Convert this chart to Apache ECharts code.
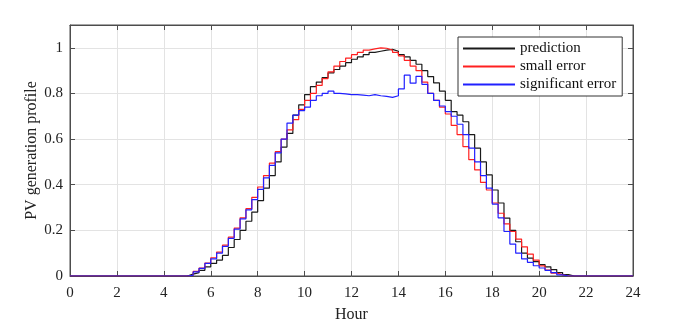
<!DOCTYPE html>
<html>
<head>
<meta charset="utf-8">
<script src="https://cdn.jsdelivr.net/npm/echarts@6/dist/echarts.min.js"></script>
<style>
  html, body { margin: 0; padding: 0; background: #fff; }
  #chart_content { width: 678px; height: 324px; }
</style>
</head>
<body>
<div id="chart_content"></div>
<script>
// 15-minute slots, 96 per day (slot i covers hour i/4 .. (i+1)/4)
let prediction = [
    0, 0, 0, 0, 0, 0, 0, 0, 0, 0, 0, 0, 0, 0, 0, 0, 0, 0, 0, 0,
    0.008, 0.015, 0.025, 0.04, 0.055, 0.07, 0.09, 0.125, 0.16, 0.20, 0.24, 0.28,
    0.33, 0.385, 0.44, 0.50, 0.565, 0.625, 0.705, 0.75, 0.795, 0.83, 0.85, 0.87,
    0.89, 0.905, 0.92, 0.935, 0.95, 0.96, 0.97, 0.98, 0.985, 0.99, 0.993, 0.985,
    0.97, 0.96, 0.945, 0.928, 0.90, 0.874, 0.846, 0.81, 0.77, 0.72, 0.705, 0.676,
    0.62, 0.56, 0.50, 0.443, 0.377, 0.32, 0.254, 0.20, 0.15, 0.10, 0.078, 0.063,
    0.05, 0.04, 0.028, 0.015, 0.006, 0, 0, 0, 0, 0, 0, 0, 0, 0, 0, 0
];
let smallError = [
    0, 0, 0, 0, 0, 0, 0, 0, 0, 0, 0, 0, 0, 0, 0, 0, 0, 0, 0, 0,
    0.003, 0.02, 0.035, 0.057, 0.08, 0.105, 0.135, 0.17, 0.21, 0.255, 0.295, 0.345,
    0.39, 0.44, 0.495, 0.545, 0.60, 0.64, 0.685, 0.73, 0.77, 0.80, 0.835, 0.865,
    0.895, 0.92, 0.94, 0.955, 0.97, 0.98, 0.99, 0.995, 1.0, 0.998, 0.99, 0.98,
    0.965, 0.945, 0.92, 0.90, 0.85, 0.80, 0.77, 0.74, 0.71, 0.66, 0.62, 0.567,
    0.51, 0.465, 0.41, 0.377, 0.32, 0.275, 0.228, 0.195, 0.162, 0.128, 0.096, 0.07,
    0.044, 0.026, 0.013, 0.005, 0, 0, 0, 0, 0, 0, 0, 0, 0, 0, 0, 0
];
let significantError = [
    0, 0, 0, 0, 0, 0, 0, 0, 0, 0, 0, 0, 0, 0, 0, 0, 0, 0, 0, 0,
    0.003, 0.018, 0.033, 0.055, 0.075, 0.10, 0.13, 0.165, 0.205, 0.25, 0.29, 0.335,
    0.38, 0.43, 0.485, 0.54, 0.60, 0.67, 0.705, 0.725, 0.74, 0.77, 0.79, 0.80,
    0.81, 0.80, 0.798, 0.795, 0.795, 0.793, 0.79, 0.795, 0.79, 0.787, 0.783, 0.79,
    0.82, 0.88, 0.845, 0.875, 0.84, 0.80, 0.77, 0.745, 0.72, 0.70, 0.665, 0.62,
    0.56, 0.50, 0.44, 0.385, 0.315, 0.255, 0.195, 0.14, 0.10, 0.075, 0.06, 0.045,
    0.035, 0.025, 0.015, 0.005, 0, 0, 0, 0, 0, 0, 0, 0, 0, 0, 0, 0
];
let xTicks = [0, 2, 4, 6, 8, 10, 12, 14, 16, 18, 20, 22, 24];
let yTicks = [0, 0.2, 0.4, 0.6, 0.8, 1];

// stairs: each slot value held to the next slot, last value held to hour 24
function toStairs(values) {
    let pts = values.map(function (v, i) { return [i / 4, v]; });
    pts.push([values.length / 4, values[values.length - 1]]);
    return pts;
}

let serif = 'Liberation Serif';
let axisColor = '#4d4d4d';

let stairsChart = {
    __dom: null,
    __chart: null,
    __option: {},
    initChart: function () {
        this.__dom = document.getElementById('chart_content');
        this.__chart = echarts.init(this.__dom, null, { renderer: 'canvas' });
        let boxAxis = {
            type: 'value',
            axisLine: { show: true, onZero: false, lineStyle: { color: axisColor, width: 1 } },
            axisTick: { show: true, inside: true, length: 5, lineStyle: { color: axisColor } },
            axisLabel: { show: false },
            splitLine: { show: false }
        };
        this.__option = {
            animation: false,
            textStyle: { fontFamily: serif },
            grid: {
                left: 70, right: 45, top: 25, bottom: 48,
                outerBoundsMode: 'none',
                containLabel: false,
                show: true, borderColor: axisColor, borderWidth: 1, backgroundColor: 'transparent'
            },
            legend: {
                orient: 'vertical',
                left: 458,
                top: 37,
                backgroundColor: '#fff',
                borderColor: '#333',
                borderWidth: 1,
                borderRadius: 0,
                padding: [4, 6, 4, 5],
                itemGap: 3,
                itemWidth: 52,
                itemHeight: 2,
                icon: 'rect',
                textStyle: { fontFamily: serif, fontSize: 15, color: '#111' },
                data: ['prediction', 'small error', 'significant error']
            },
            xAxis: [
                {
                    type: 'value',
                    min: xTicks[0],
                    max: xTicks[xTicks.length - 1],
                    interval: 2,
                    name: 'Hour',
                    nameLocation: 'middle',
                    nameGap: 31,
                    nameMoveOverlap: false,
                    nameTextStyle: { fontFamily: serif, fontSize: 16, color: '#222' },
                    axisLine: { show: true, onZero: false, lineStyle: { color: axisColor, width: 1 } },
                    axisTick: { show: true, inside: true, length: 5, lineStyle: { color: axisColor } },
                    axisLabel: { fontFamily: serif, fontSize: 15, color: '#222', margin: 10 },
                    splitLine: { show: true, lineStyle: { color: '#e3e3e3', width: 1 } }
                },
                Object.assign({
                    position: 'top',
                    min: xTicks[0], max: xTicks[xTicks.length - 1], interval: 2
                }, boxAxis)
            ],
            yAxis: [
                {
                    type: 'value',
                    min: 0,
                    max: 1.1,
                    interval: 0.2,
                    name: 'PV generation profile',
                    nameLocation: 'middle',
                    nameGap: 30,
                    nameMoveOverlap: false,
                    nameTextStyle: { fontFamily: serif, fontSize: 16, color: '#222' },
                    axisLine: { show: true, onZero: false, lineStyle: { color: axisColor, width: 1 } },
                    axisTick: {
                        show: true, inside: true, length: 5, lineStyle: { color: axisColor },
                        customValues: yTicks
                    },
                    axisLabel: {
                        fontFamily: serif, fontSize: 15, color: '#222', margin: 7,
                        customValues: yTicks,
                        formatter: function (v) { return String(Math.round(v * 10) / 10); }
                    },
                    splitLine: { show: true, lineStyle: { color: '#e3e3e3', width: 1 } }
                },
                Object.assign({
                    position: 'right',
                    min: 0, max: 1.1, interval: 0.2
                }, boxAxis)
            ],
            series: [
                {
                    name: 'prediction',
                    type: 'line',
                    step: 'end',
                    showSymbol: false,
                    color: '#1a1a1a',
                    lineStyle: { width: 1.2 },
                    data: toStairs(prediction)
                },
                {
                    name: 'small error',
                    type: 'line',
                    step: 'end',
                    showSymbol: false,
                    color: '#ff2020',
                    lineStyle: { width: 1.2 },
                    data: toStairs(smallError)
                },
                {
                    name: 'significant error',
                    type: 'line',
                    step: 'end',
                    showSymbol: false,
                    color: '#2020ff',
                    lineStyle: { width: 1.2 },
                    data: toStairs(significantError)
                },
                {
                    // binds the top and right frame axes so their ticks are drawn
                    type: 'line',
                    xAxisIndex: 1,
                    yAxisIndex: 1,
                    showSymbol: false,
                    silent: true,
                    data: []
                }
            ]
        };
        this.__chart.setOption(this.__option);
    }
};

stairsChart.initChart();
</script>
</body>
</html>
